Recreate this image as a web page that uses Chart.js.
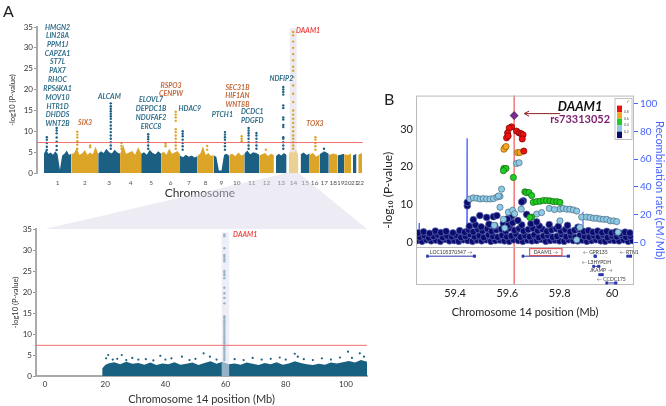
<!DOCTYPE html>
<html>
<head>
<meta charset="utf-8">
<script src="https://cdn.jsdelivr.net/npm/chart.js@4.4.1/dist/chart.umd.min.js"></script>
<style>
  html, body { margin: 0; padding: 0; background: #fff; overflow: hidden; }
  #wrap { position: relative; width: 666px; height: 406px; }
  canvas { position: absolute; }
  #gwas { left: 0; top: 0; z-index: 1; }
  #zoom14 { left: 0; top: 170px; z-index: 2; }
  #locus { left: 376px; top: 86px; z-index: 3; }
</style>
</head>
<body>
<div id="wrap">
  <canvas id="gwas" width="370" height="200"></canvas>
  <canvas id="zoom14" width="376" height="236"></canvas>
  <canvas id="locus" width="290" height="240"></canvas>
</div>
<script>
// ---------- Panel A: genome-wide ----------
const chromosomes = ['1','2','3','4','5','6','7','8','9','10','11','12','13','14','15','16','17','18','19','20','21','22'];
const chrLengths = [249,243,198,191,181,171,159,146,141,136,135,133,115,107,102,90,83,80,59,64,48,51];
const chrDataStart = [0,0,0,0,0,0,0,0,0,0,0,0,19,19,20,0,0,0,0,0,15,16];
// height of the dense bulk of SNPs along each chromosome
const chrLevels = [
  [4.6,5.6,4.6,4.9,4.4,5.2,4.5,0.8,4.2,4.6,5.4,4.3,4.7],
  [4.5,4.8,6.0,4.4,4.7,5.5,4.4,4.9,4.5,6.3,4.6],
  [4.6,5.2,4.8,5.8,5.0,4.7,5.6,4.9,4.6],
  [4.5,6.8,4.6,4.9,5.3,4.4,6.2,4.7],
  [4.6,5.0,4.4,5.6,4.8,4.5,5.2,4.6],
  [4.7,5.1,4.4,5.9,4.6,4.9,5.3,4.5],
  [4.2,3.8,4.4,3.9,4.2,3.7,4.1],
  [4.2,4.6,6.4,4.3,4.8,4.1,4.4],
  [4.2,3.9,0.6,0.6,4.4,4.6,4.1],
  [4.3,4.6,4.0,4.9,4.2,4.5],
  [4.6,5.4,4.5,5.0,4.8,4.4],
  [4.2,4.5,4.8,4.1,4.6,4.3],
  [4.0,4.6,4.2,4.8,4.3],
  [4.6,5.2,4.8,5.5,4.4],
  [4.5,4.9,4.3,4.7],
  [4.4,4.8,3.9,4.5],
  [4.5,5.2,4.6],
  [4.3,4.7,4.4],
  [4.2,4.6],
  [4.5,4.3,4.7],
  [4.2,4.6],
  [4.4,4.8]
];
// columns of SNPs rising above the bulk
const peakChr = [1,1,2,3,4,5,6,7,8,9,10,11,11,13,14,16,2,6,12,17];
const peakPos = [27,116,54,114,13,64,132,24,87,102,112,39,110,85,59.6,52,170,40,60,40];
const peakVals = [
  [5.5,6.3,7.2,8.0,8.6],
  [5.5,6.5,7.5,8.5,9.5,10.2,10.8],
  [5.8,6.8,7.6,8.5,9.2,9.9],
  [5.8,6.6,7.4,8.2,9.0,9.8,10.6,11.4,12.2,13.0,13.6,14.2,14.8,15.4,16.0,16.7],
  [5.8,6.5,7.2],
  [5.8,6.6,7.4,8.1,8.7,9.3],
  [5.8,6.6,7.4,8.2,9.0,9.8,10.5,12.5,13.3,14.0,14.7],
  [5.6,6.4,7.2,8.0,8.8,9.4,10.0],
  [5.6,6.5],
  [5.6,6.4,7.2,8.0,8.6,9.2,9.8],
  [7.6,8.2,8.8],
  [5.8,6.6,7.4,8.2,9.0,9.6,10.2,10.8],
  [5.8,6.6,7.4,8.2,9.0,9.6],
  [5.8,6.6,7.4,8.2,8.6,11.0,11.5,12.8,13.3,15.6,16.2,18.8,19.4,20.0,20.6],
  [5.8,6.6,7.4,8.2,9.0,10.0,11.0,12.0,13.0,14.0,15.0,17.0,19.0,21.0,23.0,24.5,25.5,27.0,28.5,30.0,31.5,33.0,33.8],
  [5.6,6.4,7.2,8.0,8.6],
  [6.2,6.6],
  [6.4,7.0],
  [5.6],
  [5.8]
];
const geneNames = ['HMGN2','LIN28A','PPM1J','CAPZA1','ST7L','PAX7','RHOC','RPS6KA1','MOV10','HTR1D','DHDDS','WNT2B',
  'SIX3','ALCAM','ELOVL7','DEPDC1B','NDUFAF2','ERCC8','RSPO3','CENPW','HDAC9','PTCH1',
  'SEC31B','HIF1AN','WNT8B','DCDC1','PDGFD','NDFIP2','DAAM1','TOX3'];
const geneChr = [1,1,1,1,1,1,1,1,1,1,1,1, 2,3,5,5,5,5,6,6,7,9, 10,10,10,11,11,13,14,16];
const genePos = [124,124,124,124,124,124,124,124,124,124,124,124, 125,102,90,90,90,90,90,90,89,78, 74,74,74,72,72,67,85,48];
const geneY = [34.9,32.8,30.8,28.7,26.6,24.5,22.3,20.2,18.0,15.9,13.9,11.8,
  12.1,18.2,17.5,15.4,13.3,11.1,20.9,19.1,15.4,14.0, 20.5,18.5,16.4,14.6,12.6,22.6,34.1,11.7];
const geneTone = ['t','t','t','t','t','t','t','t','t','t','t','t',
  'o','t','t','t','t','t','o','o','t','t', 'o','o','o','t','t','t','r','o'];
const sigLine = 7.3;

// ---------- Panel A: chromosome 14 ----------
const zoomTicks = [0, 20, 40, 60, 80, 100];
const zoomBgPos = [19,20,21,23,25,27,29,31,33,35,37,39,41,43,45,47,49,51,53,55,57,59,61,63,65,67,69,71,73,75,77,79,81,83,85,87,89,91,93,95,97,99,101,103,105,107];
const zoomBgVal = [1.8,2.6,3.0,3.3,2.8,3.4,2.9,3.1,2.7,3.2,2.6,3.0,2.8,3.3,2.7,2.9,3.2,2.6,3.1,3.5,2.9,3.4,2.8,3.0,2.7,3.2,2.9,2.6,3.1,2.8,3.3,2.7,3.0,3.5,3.1,2.8,2.6,2.9,2.7,3.2,3.0,3.3,3.6,3.2,3.8,3.4];
const zoomDots = [[20.3,4.2],[21,5.0],[22.5,3.9],[24,4.1],[25.5,5.0],[27,3.8],[29,4.3],[31,3.9],[33.5,4.0],[36,3.7],
  [38.3,4.8],[40,3.9],[42,4.2],[45.5,4.6],[48,3.8],[50,4.1],[52.7,5.4],[54.8,4.6],[57,3.9],[63,4.0],[66,3.8],[69,4.3],
  [72,3.9],[75,4.1],[78,4.4],[80,3.9],[83,5.3],[84,4.6],[86,4.0],[89,3.8],[92,4.2],[95,3.9],[98,4.4],[100.7,5.8],
  [102,4.3],[104.6,5.4],[106,4.6]];
const zoomPeakPos = 59.6;
const zoomPeakVals = [33.7,33.3,30.4,28.8,28.4,27.8,27.3,25.0,24.5,24.0,23.3,21.0,19.7,18.6,17.3,14.2,13.8,13.3,12.8,12.3,
  11.8,11.3,10.8,10.3,9.8,9.3,8.8,8.3,7.8,7.3,6.8,6.3,5.8,5.3,4.8,4.3,3.8];

// ---------- Panel B: regional plot ----------
const leadSnp = 'rs73313052';
const leadPos = 59.626, leadP = 33.6;
const ldRed = [[59.616,30.6],[59.607,30.3],[59.601,29.0],[59.597,27.7],[59.603,28.2],[59.635,29.5],[59.645,29.0],[59.653,28.8],[59.660,28.5],[59.657,27.4],[59.663,24.2]];
const ldOrange = [[59.591,25.1],[59.587,24.7],[59.595,25.4],[59.639,23.8],[59.648,23.8]];
const ldGreen = [[59.587,19.6],[59.595,19.6],[59.585,19.0],[59.623,17.2],[59.667,13.4],[59.673,13.2],[59.683,13.2],[59.693,12.4],
  [59.699,10.6],[59.712,10.8],[59.725,10.9],[59.738,11.1],[59.750,11.1],[59.763,11.0],[59.776,10.8],[59.789,10.8],[59.801,10.6],[59.693,6.7],[59.686,6.6]];
const ldLight = [[59.635,20.9],[59.645,21.1],[59.578,14.1],[59.457,11.5],[59.470,11.8],[59.483,11.7],[59.496,11.5],[59.508,11.6],
  [59.521,11.5],[59.534,11.5],[59.547,11.6],[59.560,12.0],[59.572,12.2],[59.566,12.3],[59.604,8.0],[59.572,9.3],[59.653,8.8],
  [59.712,7.5],[59.731,7.9],[59.801,8.8],[59.813,9.0],[59.827,8.8],[59.839,8.8],[59.852,8.6],[59.865,8.3],[59.884,6.7],
  [59.903,6.7],[59.916,6.6],[59.929,6.4],[59.941,6.4],[59.954,6.2],[59.967,6.1],[59.980,6.1],[59.993,5.7],[60.006,5.7],
  [60.018,5.5],[60.023,2.7],[59.877,4.0],[59.865,0.7],[59.801,5.7],[59.585,6.1],[59.590,3.8],[59.550,4.5],[59.620,8.5],
  [59.628,7.6],[59.760,9.0],[59.780,8.7]];
const ldNavy = [
  [59.256,0.5],[59.274,0.3],[59.291,0.7],[59.309,0.4],[59.327,0.6],[59.344,0.3],[59.362,0.8],[59.379,0.4],[59.397,0.5],[59.414,0.3],
  [59.432,0.7],[59.449,0.5],[59.467,0.3],[59.484,0.6],[59.502,0.4],[59.519,0.7],[59.537,0.3],[59.554,0.5],[59.572,0.6],[59.589,0.4],
  [59.607,0.3],[59.624,0.7],[59.642,0.5],[59.659,0.3],[59.677,0.6],[59.694,0.4],[59.712,0.5],[59.729,0.8],[59.747,0.3],[59.764,0.5],
  [59.782,0.6],[59.799,0.4],[59.817,0.3],[59.834,0.7],[59.852,0.5],[59.869,0.4],[59.887,0.6],[59.904,0.3],[59.922,0.5],[59.939,0.7],
  [59.957,0.4],[59.974,0.3],[59.992,0.6],[60.009,0.5],[60.027,0.4],[60.044,0.7],[60.062,0.3],[60.078,0.5],
  [59.265,1.4],[59.283,1.8],[59.300,1.2],[59.318,1.6],[59.335,2.0],[59.353,1.3],[59.370,1.7],[59.388,1.5],[59.405,1.9],[59.423,1.3],
  [59.440,1.6],[59.458,2.1],[59.475,1.5],[59.493,1.8],[59.510,1.3],[59.528,2.0],[59.545,1.6],[59.563,1.4],[59.580,1.9],[59.598,1.5],
  [59.615,1.7],[59.633,2.2],[59.650,1.4],[59.668,1.8],[59.685,1.5],[59.703,2.0],[59.720,1.3],[59.738,1.7],[59.755,1.9],[59.773,1.4],
  [59.790,1.6],[59.808,2.1],[59.825,1.5],[59.843,1.8],[59.860,1.3],[59.878,1.9],[59.895,1.6],[59.913,1.4],[59.930,1.8],[59.948,1.5],
  [59.965,2.0],[59.983,1.3],[60.000,1.7],[60.018,1.5],[60.035,1.9],[60.053,1.4],[60.070,1.7],
  [59.260,2.5],[59.280,2.8],[59.303,2.4],[59.325,3.0],[59.346,2.6],[59.366,2.9],[59.392,2.5],[59.418,3.1],[59.437,2.7],[59.452,3.3],
  [59.470,2.8],[59.488,3.4],[59.505,3.0],[59.523,3.6],[59.540,2.9],[59.558,3.3],[59.577,3.5],[59.594,3.0],[59.610,3.8],[59.628,3.2],
  [59.645,3.6],[59.662,3.0],[59.680,3.4],[59.698,3.7],[59.716,3.1],[59.734,3.5],[59.751,2.9],[59.769,3.3],[59.787,3.6],[59.804,3.0],
  [59.822,3.4],[59.840,2.8],[59.857,3.2],[59.875,3.5],[59.892,2.9],[59.910,3.1],[59.927,2.7],[59.945,3.0],[59.962,2.6],[59.980,2.9],
  [59.998,2.5],[60.015,2.8],[60.033,2.4],[60.050,2.7],[60.068,2.5],
  [59.455,4.3],[59.478,4.6],[59.500,4.1],[59.530,4.8],[59.552,4.4],[59.585,5.0],[59.603,4.5],[59.620,5.2],[59.655,4.6],[59.690,4.9],
  [59.722,4.3],[59.760,4.7],[59.795,4.2],[59.830,4.5],[59.870,4.0],
  [59.447,9.7],[59.447,10.6],[59.495,7.1],[59.521,6.6],[59.547,6.8],[59.560,7.1],[59.611,6.6],[59.617,7.1],[59.661,11.0],
  [59.655,10.7],[59.674,7.4],[59.712,5.4],[59.600,6.2],[59.470,6.0],[59.640,5.8]];
const recombPos = [59.251,59.262,59.263,59.264,59.300,59.350,59.400,59.445,59.446,59.447,59.500,59.600,59.700,59.800,59.888,59.889,59.890,59.950,60.000,60.084];
const recombRate = [0.5,0.5,14,0.6,1.0,0.8,1.2,1.0,75,1.0,0.5,0.3,0.5,0.6,1.0,22,1.0,0.8,1.5,0.8];
const trackGenes = ['LOC105370547 \u2192','DAAM1 \u2192','\u2190 GPR135','\u2190 RTN1','\u2190 L3HYPDH','JKAMP \u2192','\u2190 CCDC175'];
const trackStart = [59.29,59.655,59.93,60.055,59.925,59.948,59.975];
const trackEnd = [59.48,59.839,59.942,60.084,59.955,59.968,60.02];
const trackRow = [0,0,0,0,1,2,3];
const ldBins = ['0.8','0.6','0.4','0.2'];

Chart.defaults.font.family = 'Lato, "Open Sans", sans-serif';
Chart.defaults.color = '#333';

const blue = '#1b5f82', gold = '#dca528', pale = '#ebd093';
const toneColor = { t: '#2f6d89', o: '#c4693a', r: '#f04646' };

const offsets = [];
let acc = 0;
chrLengths.forEach(len => { offsets.push(acc); acc += len; });
const chrColor = i => chromosomes[i] === '14' ? pale : (i % 2 === 0 ? blue : gold);
const i14 = chromosomes.indexOf('14');

const bgSets = chrLevels.map((lv, i) => {
  const x0 = offsets[i] + chrDataStart[i], x1 = offsets[i] + chrLengths[i];
  return {
    type: 'line',
    data: lv.map((v, j) => ({ x: x0 + (x1 - x0) * j / (lv.length - 1), y: v })),
    borderWidth: 0, pointRadius: 0, fill: 'origin',
    backgroundColor: chrColor(i), borderColor: chrColor(i), order: 2
  };
});
const peakSets = peakChr.map((c, k) => ({
  type: 'scatter',
  data: peakVals[k].map(v => ({ x: offsets[c - 1] + peakPos[k], y: v })),
  pointRadius: 1.2, pointBorderWidth: 0,
  backgroundColor: (c - 1) % 2 === 0 ? blue : gold, order: 1
}));

const gwasDecor = {
  id: 'gwasDecor',
  beforeDatasetsDraw(chart) {
    const { ctx, scales: { x, y } } = chart;
    const l = x.getPixelForValue(offsets[i14] + 29), r = x.getPixelForValue(offsets[i14] + 91);
    ctx.save();
    ctx.fillStyle = '#ebeaf3';
    ctx.fillRect(l, y.getPixelForValue(34.7), r - l, y.getPixelForValue(0) - y.getPixelForValue(34.7));
    ctx.restore();
  },
  afterDatasetsDraw(chart) {
    const { ctx, chartArea: a, scales: { x, y } } = chart;
    ctx.save();
    ctx.strokeStyle = 'rgba(240,95,95,0.9)';
    ctx.lineWidth = 1;
    const sy = y.getPixelForValue(sigLine);
    ctx.beginPath(); ctx.moveTo(a.left, sy); ctx.lineTo(a.right, sy); ctx.stroke();

    ctx.font = 'italic bold 7px Lato';
    ctx.textBaseline = 'middle';
    geneNames.forEach((g, k) => {
      const px = x.getPixelForValue(offsets[geneChr[k] - 1] + genePos[k]);
      ctx.fillStyle = toneColor[geneTone[k]];
      ctx.textAlign = geneTone[k] === 'r' ? 'left' : 'center';
      ctx.fillText(g, px, y.getPixelForValue(geneY[k]));
    });
    ctx.fillStyle = '#222';
    ctx.font = '16px Lato';
    ctx.textAlign = 'left';
    ctx.fillText('A', 3, 12);
    ctx.restore();
  }
};

const gwasChart = new Chart(document.getElementById('gwas'), {
  type: 'scatter',
  data: { datasets: [...peakSets, ...bgSets] },
  options: {
    responsive: false, animation: false,
    layout: { padding: { top: 27, right: 2, left: 0, bottom: 0 } },
    plugins: { legend: { display: false }, tooltip: { enabled: false } },
    scales: {
      x: {
        type: 'linear', min: -62, max: 2888,
        afterBuildTicks: s => { s.ticks = chromosomes.map((c, i) => ({ value: offsets[i] + (chrDataStart[i] + chrLengths[i]) / 2 })); },
        afterFit: s => { s.height = 27; },
        ticks: { autoSkip: false, maxRotation: 0, font: { size: 6.5 }, color: '#555', padding: 6,
                 callback: (v, idx) => chromosomes[idx] },
        grid: { display: false, drawTicks: false },
        border: { display: false },
        title: { display: true, text: 'Chromosome', font: { size: 12 }, color: '#333', padding: { top: 0, bottom: 0 } }
      },
      y: {
        min: 0, max: 35,
        afterFit: s => { s.width = 37; },
        ticks: { stepSize: 5, font: { size: 8 }, color: '#333', padding: 1 },
        grid: { drawOnChartArea: false, tickLength: 3, color: '#999' },
        border: { color: '#aaa', width: 2 },
        title: { display: true, text: '-log10 (P-value)', font: { size: 7.5 }, color: '#333', padding: { top: 8, bottom: 0 } }
      }
    }
  },
  plugins: [gwasDecor]
});

const zoomDecor = {
  id: 'zoomDecor',
  beforeDraw(chart) {
    // grey funnel from chromosome 14 in the genome-wide plot
    const { ctx, chartArea: a, scales: { x } } = chart;
    const gx = gwasChart.scales.x;
    const shift = 170;
    const top = gwasChart.chartArea.bottom - shift;
    ctx.save();
    ctx.fillStyle = 'rgba(214,211,228,0.45)';
    ctx.beginPath();
    ctx.moveTo(gx.getPixelForValue(offsets[i14]), top);
    ctx.lineTo(gx.getPixelForValue(offsets[i14] + chrLengths[i14]), top);
    ctx.lineTo(x.getPixelForValue(chrLengths[i14]), a.top);
    ctx.lineTo(x.getPixelForValue(0), a.top);
    ctx.closePath();
    ctx.fill();
    ctx.restore();
  },
  afterDatasetsDraw(chart) {
    const { ctx, chartArea: a, scales: { x, y } } = chart;
    ctx.save();
    const l = x.getPixelForValue(58.7), r = x.getPixelForValue(61.2);
    ctx.fillStyle = 'rgba(228,228,240,0.62)';
    ctx.fillRect(l, y.getPixelForValue(34.2), r - l, y.getPixelForValue(0) - y.getPixelForValue(34.2));
    ctx.strokeStyle = 'rgba(240,95,95,0.9)';
    ctx.lineWidth = 1;
    const sy = y.getPixelForValue(sigLine);
    ctx.beginPath(); ctx.moveTo(a.left, sy); ctx.lineTo(a.right, sy); ctx.stroke();
    ctx.fillStyle = toneColor.r;
    ctx.font = 'italic bold 7px Lato';
    ctx.textBaseline = 'middle';
    ctx.fillText('DAAM1', x.getPixelForValue(62.5), y.getPixelForValue(33.6));
    ctx.restore();
  }
};

new Chart(document.getElementById('zoom14'), {
  type: 'scatter',
  data: {
    datasets: [
      { data: zoomPeakVals.map(v => ({ x: zoomPeakPos, y: v })), pointRadius: 1.2, pointBorderWidth: 0, backgroundColor: blue },
      { data: zoomDots.map(d => ({ x: d[0], y: d[1] })), pointRadius: 1.1, pointBorderWidth: 0, backgroundColor: blue },
      { type: 'line', data: zoomBgPos.map((p, i) => ({ x: p, y: zoomBgVal[i] })), borderWidth: 0, pointRadius: 0,
        fill: 'origin', backgroundColor: '#17607f', borderColor: '#17607f' }
    ]
  },
  options: {
    responsive: false, animation: false,
    layout: { padding: { top: 59, right: 9, left: 0, bottom: 0 } },
    plugins: { legend: { display: false }, tooltip: { enabled: false } },
    scales: {
      x: {
        type: 'linear', min: -3, max: 107,
        afterBuildTicks: s => { s.ticks = zoomTicks.map(v => ({ value: v })); },
        afterFit: s => { s.height = 30; },
        ticks: { font: { size: 8 }, color: '#333', padding: 4, maxRotation: 0 },
        grid: { display: false, drawTicks: false },
        border: { color: '#aaa', width: 2 },
        title: { display: true, text: 'Chromosome 14 position (Mb)', font: { size: 11 }, color: '#333', padding: { top: 0, bottom: 0 } }
      },
      y: {
        min: 0, max: 35,
        afterFit: s => { s.width = 36; },
        ticks: { stepSize: 5, font: { size: 8 }, color: '#333', padding: 1 },
        grid: { drawOnChartArea: false, tickLength: 3, color: '#999' },
        border: { color: '#aaa', width: 2 },
        title: { display: true, text: '-log10 (P-value)', font: { size: 7.5 }, color: '#333', padding: { top: 11, bottom: 0 } }
      }
    }
  },
  plugins: [zoomDecor]
});

// ---------- Panel B ----------
const pts = arr => arr.map(d => ({ x: d[0], y: d[1] }));
const ldStyle = (fill, edge, r) => ({ backgroundColor: fill, borderColor: edge, pointRadius: r || 3.1, pointBorderWidth: 0.7 });

const locusDecor = {
  id: 'locusDecor',
  beforeDatasetsDraw(chart) {
    const { ctx, chartArea: a, scales: { x } } = chart;
    const lx = x.getPixelForValue(leadPos);
    ctx.save();
    ctx.strokeStyle = '#f25555'; ctx.lineWidth = 1.2;
    ctx.beginPath(); ctx.moveTo(lx, a.top); ctx.lineTo(lx, a.bottom); ctx.stroke();
    ctx.restore();
  },
  afterDatasetsDraw(chart) {
    const { ctx, chartArea: a, scales: { x, y } } = chart;
    ctx.save();
    // frame and gene-track separator
    ctx.strokeStyle = '#bbb'; ctx.lineWidth = 1;
    ctx.strokeRect(a.left + 0.5, a.top + 0.5, a.right - a.left - 1, a.bottom - a.top - 1);
    const sep = Math.round(y.getPixelForValue(-1.3)) + 0.5;
    ctx.beginPath(); ctx.moveTo(a.left, sep); ctx.lineTo(a.right, sep); ctx.stroke();

    // gene track
    const rowY = [-2.6, -5.3, -7.5, -9.7];
    ctx.font = '5px Lato';
    ctx.textAlign = 'center';
    ctx.textBaseline = 'middle';
    trackGenes.forEach((g, k) => {
      const ty = y.getPixelForValue(rowY[trackRow[k]]);
      const x0 = x.getPixelForValue(trackStart[k]), x1 = Math.min(x.getPixelForValue(trackEnd[k]), a.right - 2);
      ctx.strokeStyle = '#2a35b0'; ctx.lineWidth = 1;
      ctx.beginPath(); ctx.moveTo(x0, ty + 4); ctx.lineTo(x1, ty + 4); ctx.stroke();
      ctx.fillStyle = '#2a35b0';
      ctx.fillRect(x0, ty + 2.5, 2.5, 3);
      ctx.fillRect(x1 - 3, ty + 2.5, 3, 3);
      const cx = (x0 + x1) / 2;
      ctx.fillStyle = '#333';
      ctx.fillText(g, cx, ty);
      if (g.indexOf('DAAM1') === 0) {
        const w = ctx.measureText(g).width + 8;
        ctx.strokeStyle = '#e23b3b';
        ctx.strokeRect(cx - w / 2, ty - 3.5, w, 7);
      }
    });

    // LD legend
    const lgx = a.right - 19, lgy = a.top + 3;
    const cols = ['#ee1111', '#f5a623', '#22cc22', '#8ecae6', '#0c0c70'];
    ctx.fillStyle = '#fff';
    ctx.fillRect(lgx, lgy, 17, 41);
    ctx.strokeStyle = '#999'; ctx.lineWidth = 0.6;
    ctx.strokeRect(lgx, lgy, 17, 41);
    cols.forEach((c, k) => { ctx.fillStyle = c; ctx.fillRect(lgx + 2, lgy + 7 + k * 6.5, 5, 6.5); });
    ctx.fillStyle = '#555';
    ctx.font = '3.5px Lato';
    ctx.textAlign = 'left';
    ldBins.forEach((b, k) => ctx.fillText(b, lgx + 9, lgy + 13.5 + k * 6.5));
    ctx.fillText('r\u00b2', lgx + 12, lgy + 3.5);

    // lead SNP annotation
    const lx = x.getPixelForValue(leadPos), ly = y.getPixelForValue(leadP);
    ctx.strokeStyle = '#8b2323'; ctx.fillStyle = '#8b2323'; ctx.lineWidth = 1;
    ctx.beginPath(); ctx.moveTo(lx + 46, ly - 2); ctx.lineTo(lx + 11, ly - 2); ctx.stroke();
    ctx.beginPath(); ctx.moveTo(lx + 10, ly - 2); ctx.lineTo(lx + 15, ly - 4.5); ctx.moveTo(lx + 10, ly - 2); ctx.lineTo(lx + 15, ly + 0.5); ctx.stroke();
    ctx.textAlign = 'center';
    ctx.fillStyle = '#111';
    ctx.font = 'italic bold 13px Lato';
    ctx.fillText('DAAM1', lx + 66, ly - 9);
    ctx.fillStyle = '#7b1f6e';
    ctx.font = 'bold 11px Lato';
    ctx.fillText(leadSnp, lx + 66, ly + 4);

    ctx.fillStyle = '#222';
    ctx.font = '16px Lato';
    ctx.textAlign = 'left';
    ctx.fillText('B', 8, 14);
    ctx.restore();
  }
};

new Chart(document.getElementById('locus'), {
  type: 'scatter',
  data: {
    datasets: [
      { data: [{ x: leadPos, y: leadP }], pointStyle: 'rectRot', pointRadius: 4, backgroundColor: '#7a2b8f', borderColor: '#3a0a45', pointBorderWidth: 0.7 },
      { data: pts(ldRed), ...ldStyle('#ee1111', '#7a0000') },
      { data: pts(ldOrange), ...ldStyle('#f5a623', '#8a5a00') },
      { data: pts(ldGreen), ...ldStyle('#22cc22', '#116611') },
      { data: pts(ldLight), ...ldStyle('#8ecae6', '#4a6a80') },
      { data: pts(ldNavy), ...ldStyle('#0c0c70', '#5f70b0', 3.4) },
      { type: 'line', yAxisID: 'y2', data: recombPos.map((p, i) => ({ x: p, y: recombRate[i] })),
        borderColor: 'rgb(85,110,255)', borderWidth: 1.2, pointRadius: 0, fill: false }
    ]
  },
  options: {
    responsive: false, animation: false,
    layout: { padding: { top: 8, right: 0, left: 0, bottom: 0 } },
    plugins: { legend: { display: false }, tooltip: { enabled: false } },
    scales: {
      x: {
        type: 'linear', min: 59.251, max: 60.084,
        afterBuildTicks: s => { s.ticks = [59.4, 59.6, 59.8, 60].map(v => ({ value: v })); },
        afterFit: s => { s.height = 41; },
        ticks: { font: { size: 11 }, color: '#222', padding: 2, callback: v => String(+v.toFixed(1)) },
        grid: { display: false, drawTicks: false },
        border: { display: false },
        title: { display: true, text: 'Chromosome 14 position (Mb)', font: { size: 11 }, color: '#222', padding: { top: 0, bottom: 7 } }
      },
      y: {
        min: -11.3, max: 38.9,
        afterBuildTicks: s => { s.ticks = [0, 10, 20, 30].map(v => ({ value: v })); },
        afterFit: s => { s.width = 40; },
        ticks: { font: { size: 11 }, color: '#222', padding: 3 },
        grid: { display: false, drawTicks: false },
        border: { display: false },
        title: { display: true, text: '-log\u2081\u2080 (P-value)', font: { size: 12 }, color: '#222', padding: { top: 5, bottom: 0 } }
      },
      y2: {
        position: 'right', min: -30.7, max: 105.7,
        afterBuildTicks: s => { s.ticks = [0, 20, 40, 60, 80, 100].map(v => ({ value: v })); },
        afterFit: s => { s.width = 32; },
        ticks: { font: { size: 10 }, color: 'rgb(70,100,255)', padding: 2 },
        grid: { drawOnChartArea: false, tickLength: 4, color: 'rgb(70,100,255)' },
        border: { display: false },
        title: { display: true, text: 'Recombination rate (cM/Mb)', font: { size: 11 }, color: 'rgb(70,100,255)', padding: { top: 0, bottom: 0 } }
      }
    }
  },
  plugins: [locusDecor]
});
</script>
</body>
</html>
